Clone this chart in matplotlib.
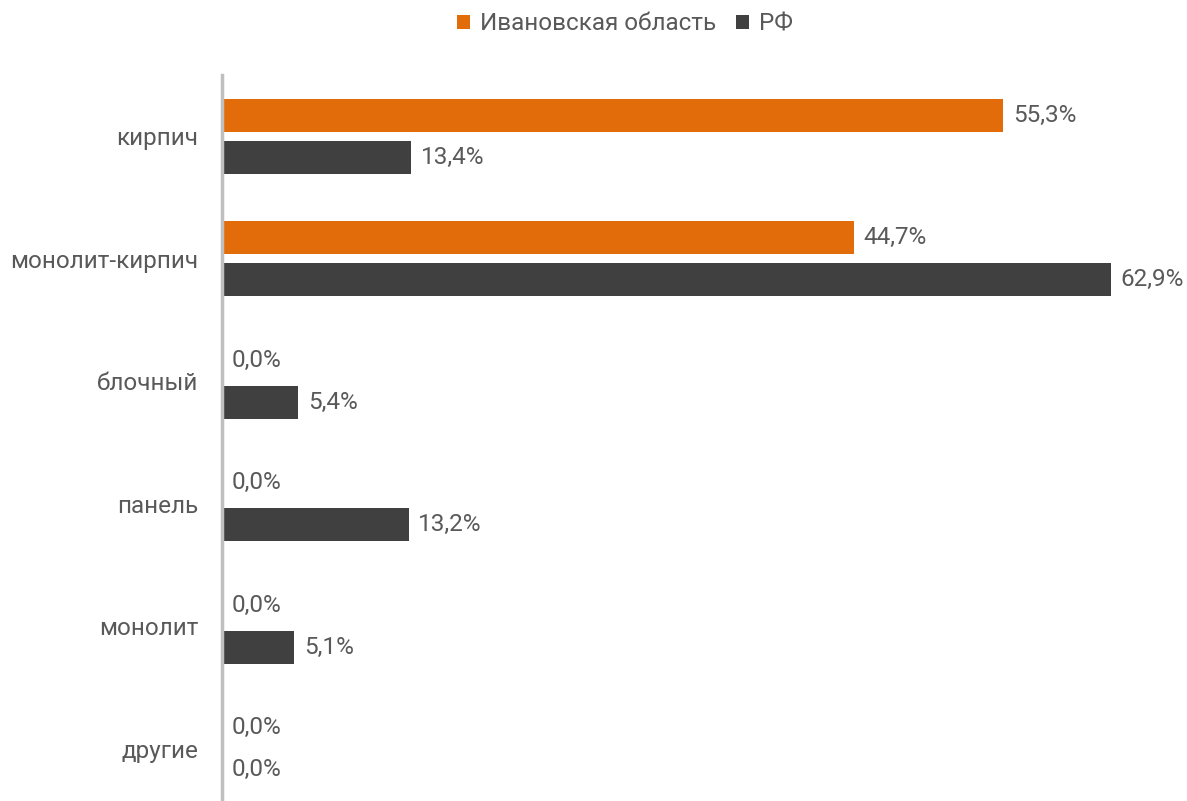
import matplotlib.pyplot as plt
import numpy as np

plt.rcParams['font.family'] = ['Roboto', 'DejaVu Sans']

categories = ['кирпич', 'монолит-кирпич', 'блочный', 'панель', 'монолит', 'другие']
ivanovo = [55.3, 44.7, 0.0, 0.0, 0.0, 0.0]
rf = [13.4, 62.9, 5.4, 13.2, 5.1, 0.0]
series_names = ['Ивановская область', 'РФ']

c_orange = '#e36c0a'
c_dark = '#404040'
c_text = '#595959'

fig = plt.figure(figsize=(11.87, 8.01), dpi=100)
# axes runs slightly past the bottom edge, like the original
ax = fig.add_axes([222 / 1187, -9 / 801, 1 - 222 / 1187, 735 / 801])

y = np.arange(len(categories))
h = 0.27
gap = 0.035
b1 = ax.barh(y - h / 2 - gap, ivanovo, height=h, color=c_orange, label=series_names[0])
b2 = ax.barh(y + h / 2 + gap, rf, height=h, color=c_dark, label=series_names[1])

for bars, vals in ((b1, ivanovo), (b2, rf)):
    for bar, v in zip(bars, vals):
        ax.annotate(f'{v:.1f}%'.replace('.', ','),
                    (bar.get_width(), bar.get_y() + bar.get_height() / 2),
                    xytext=(7, 0), textcoords='offset points',
                    va='center', ha='left', fontsize=17.5, color=c_text)

ax.set_ylim(len(categories) - 0.5, -0.5)
ax.set_xlim(0, 68.3)
ax.set_yticks(y)
ax.set_yticklabels(categories, fontsize=17.5, color=c_text)
ax.tick_params(axis='y', length=0, pad=17)
ax.set_xticks([])
for s in ('top', 'right', 'bottom'):
    ax.spines[s].set_visible(False)
ax.spines['left'].set_color('#bfbfbf')
ax.spines['left'].set_linewidth(2.5)

fig.legend(loc='center', bbox_to_anchor=(625 / 1187, 1 - 24 / 801), ncol=2, frameon=False,
           fontsize=17.5, labelcolor=c_text, handlelength=0.55, handleheight=0.55,
           handletextpad=0.4, columnspacing=0.8, borderpad=0)

fig.savefig('out.png', dpi=100)
